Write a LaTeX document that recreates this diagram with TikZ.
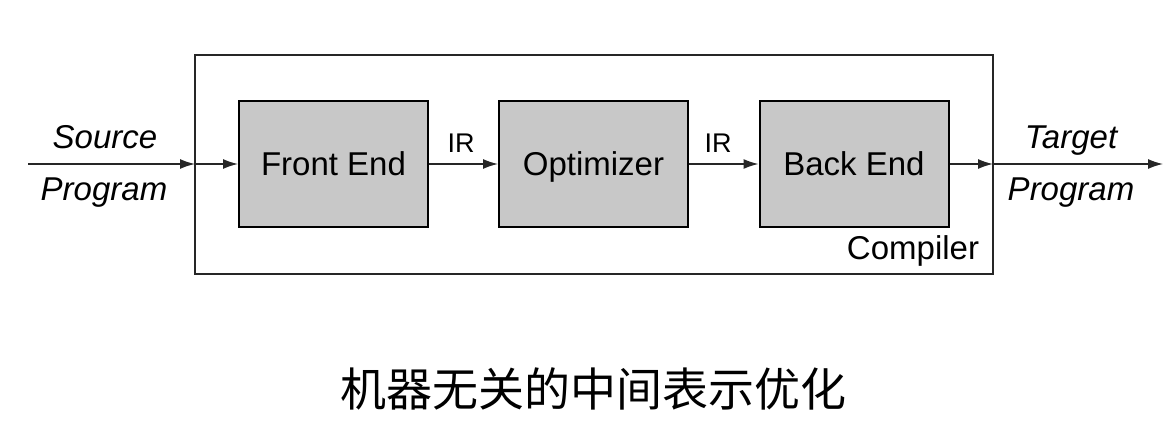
\documentclass[tikz,border=0pt]{standalone}
\usepackage{fontspec}
\setmainfont{Liberation Sans}
\newfontfamily\cjk{Noto Sans CJK SC}
\usetikzlibrary{arrows.meta}
\definecolor{boxgray}{RGB}{200,200,200}
\begin{document}
\begin{tikzpicture}[x=1pt,y=-1pt,
  stage/.style={draw=black,line width=2pt,fill=boxgray,minimum width=189pt,minimum height=126pt,inner sep=0pt,text height=26pt,text depth=3pt,font=\fontsize{33}{36}\selectfont},
  outerbox/.style={draw=black!85,line width=2.6pt,minimum width=798pt,minimum height=219pt,inner sep=0pt},
  flow/.style={line width=1.4pt,draw=black!85,-{Latex[length=15pt,width=10pt]}},
  lbl/.style={font=\fontsize{33}{36}\selectfont\itshape,inner sep=0pt,anchor=base},
  irl/.style={font=\fontsize{27}{30}\selectfont,inner sep=0pt,anchor=base}]
\useasboundingbox (0,0) rectangle (1168,438);
\node[outerbox] (outer) at (594,164.5) {};
\node[stage] (fe) at (333.5,164) {Front End};
\node[stage] (op) at (593.5,164) {Optimizer};
\node[stage] (be) at (854,164) {Back End};
\coordinate (src) at (28,164);
\coordinate (tgt) at (1163,164);
\coordinate (inpt) at (195,164);
\coordinate (outpt) at (993,164);
\draw[flow] (src) -- (inpt);
\draw[flow] (inpt) -- (fe.west);
\draw[flow] (fe.east) -- (op.west);
\draw[flow] (op.east) -- (be.west);
\draw[flow] (be.east) -- (outpt);
\draw[flow] (outpt) -- (tgt);
\node[lbl] (s1) at (105,149) {Source};
\node[lbl] (s2) at (104,201) {Program};
\node[lbl] (t1) at (1071,149) {Target};
\node[lbl] (t2) at (1071,201) {Program};
\node[irl] (ir1) at (461,153) {IR};
\node[irl] (ir2) at (718,153) {IR};
\node[font=\fontsize{33}{36}\selectfont,inner sep=0pt,anchor=base] (comp) at (913,260) {Compiler};
\node[font=\fontsize{46}{50}\selectfont\cjk,inner sep=0pt] (cap) at (593,389) {机器无关的中间表示优化};
\end{tikzpicture}
\end{document}
